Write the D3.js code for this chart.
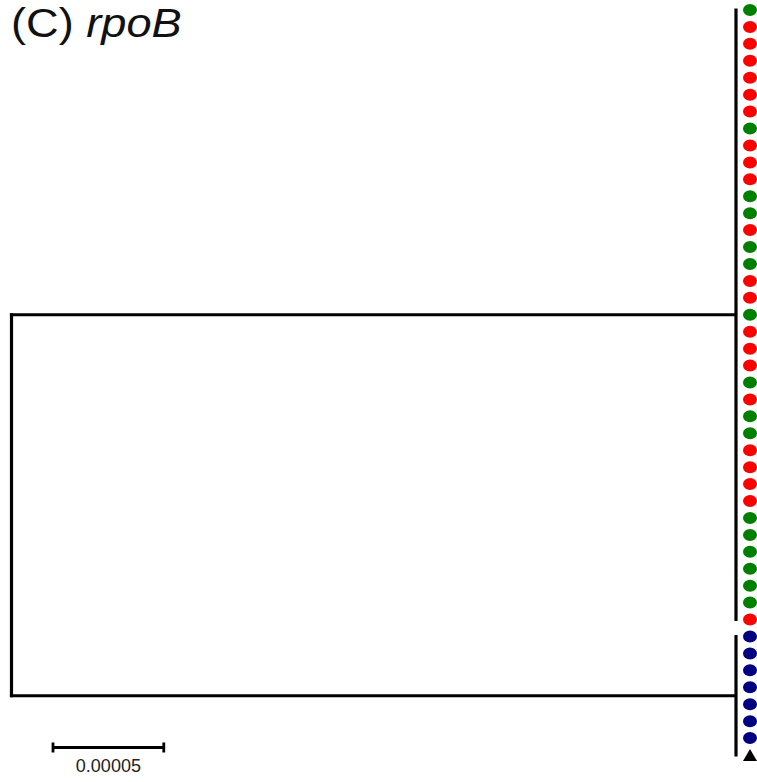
<!DOCTYPE html>
<html>
<head>
<meta charset="utf-8">
<title>rpoB tree</title>
<script src="https://cdn.jsdelivr.net/npm/d3@7"></script>
<style>
  body { margin: 0; background: #fff; }
  svg { display: block; font-family: "Liberation Sans", Arial, sans-serif; }
</style>
</head>
<body>
<svg id="chart" width="757" height="782"></svg>
<script>
// leaf groups, top to bottom (g = green, r = red, b = blue, ref = reference triangle)
const topClade = ['g','r','r','r','r','r','r','g','r','r','r','g','g','r','g','g','r','r','g',
                  'r','r','r','g','r','g','g','r','r','r','r','g','g','g','g','g','g','r'];
const bottomClade = ['b','b','b','b','b','b','b','ref'];
// branch lengths (substitutions/site) from root to each clade, leaves at length 0
const cladeBranch = [0.000327, 0.000327];
const leafBranch = 0;
const scaleValue = 0.00005;
const scaleLabel = "0.00005";
const groupColor = { g: "#008000", r: "#ff0000", b: "#000080", ref: "#000000" };

const svg = d3.select("#chart");

// build tree
const treeData = {
  name: "root", len: 0,
  children: [topClade, bottomClade].map((leaves, i) => ({
    name: "clade" + i, len: cladeBranch[i],
    children: leaves.map((g, j) => ({ name: "leaf" + i + "_" + j, group: g, len: leafBranch }))
  }))
};
const root = d3.hierarchy(treeData);
root.eachBefore(d => { d.dist = (d.parent ? d.parent.dist : 0) + d.data.len; });

const leaves = root.leaves();
const maxDist = d3.max(leaves, d => d.dist);
const x = d3.scaleLinear().domain([0, maxDist]).range([11.5, 736]);
const y = d3.scaleLinear().domain([0, leaves.length - 1]).range([10, 755]);

leaves.forEach((d, i) => { d.py = y(i); });
root.eachAfter(d => { if (d.children) d.py = (d.children[0].py + d.children[d.children.length - 1].py) / 2; });

const g = svg.append("g")
  .attr("fill", "none")
  .attr("stroke", "#000")
  .attr("stroke-width", 3.2);

// vertical connectors for internal nodes
root.descendants().filter(d => d.children).forEach(d => {
  g.append("line")
    .attr("x1", x(d.dist)).attr("x2", x(d.dist))
    .attr("y1", d.children[0].py - 1.5).attr("y2", d.children[d.children.length - 1].py + 1.5);
});
// horizontal branches
root.descendants().filter(d => d.parent && d.data.len > 0).forEach(d => {
  g.append("line")
    .attr("x1", x(d.parent.dist) - 1.6).attr("x2", x(d.dist))
    .attr("y1", d.py).attr("y2", d.py);
});

// tip symbols
const tips = svg.append("g");
tips.selectAll("ellipse")
  .data(leaves.filter(d => d.data.group !== "ref"))
  .join("ellipse")
  .attr("cx", 750)
  .attr("cy", d => d.py)
  .attr("rx", 7)
  .attr("ry", 6)
  .attr("fill", d => groupColor[d.data.group]);
tips.selectAll("path")
  .data(leaves.filter(d => d.data.group === "ref"))
  .join("path")
  .attr("transform", d => `translate(750,${d.py})`)
  .attr("d", "M0,-6L7,6L-7,6Z")
  .attr("fill", groupColor.ref);

// scale bar
const sb = svg.append("g").attr("stroke", "#000").attr("stroke-width", 2.8);
const sx0 = 53, sx1 = sx0 + (x(scaleValue) - x(0)), sy = 747.5;
sb.append("line").attr("x1", sx0).attr("x2", sx1).attr("y1", sy).attr("y2", sy);
sb.append("line").attr("x1", sx0).attr("x2", sx0).attr("y1", sy - 5).attr("y2", sy + 5);
sb.append("line").attr("x1", sx1).attr("x2", sx1).attr("y1", sy - 5).attr("y2", sy + 5);
svg.append("text")
  .attr("x", (sx0 + sx1) / 2)
  .attr("y", 772)
  .attr("text-anchor", "middle")
  .attr("font-size", 18)
  .attr("fill", "#222")
  .text(scaleLabel);

// title
const t = svg.append("text")
  .attr("transform", "translate(11,37) scale(1.13,1)")
  .attr("font-size", 40)
  .attr("fill", "#111");
t.append("tspan").text("(C) ");
t.append("tspan").attr("font-style", "italic").text("rpoB");
</script>
</body>
</html>
